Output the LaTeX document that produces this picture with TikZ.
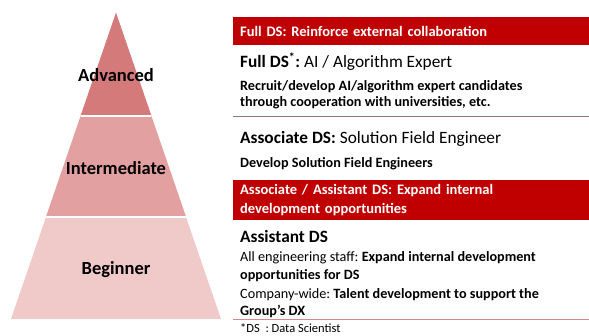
\documentclass[tikz,border=0pt]{standalone}
\usepackage{fontspec}
\setmainfont{Carlito}
\usepackage{xcolor}
\usetikzlibrary{positioning,calc}
\frenchspacing
\definecolor{pyrtop}{RGB}{213,122,122}
\definecolor{pyrmid}{RGB}{226,160,161}
\definecolor{pyrbot}{RGB}{240,201,201}
\definecolor{barred}{RGB}{192,0,0}
\definecolor{rulegray}{RGB}{150,118,118}
\definecolor{rulepink}{RGB}{212,138,138}
\tikzset{
  lvlnode/.style={font=\fontsize{18.5}{20}\selectfont\bfseries, inner sep=0pt},
  headbar/.style={fill=barred, text=white, anchor=north west, align=left, text width=342pt, inner xsep=7pt, inner ysep=0pt, font=\fontsize{14.5}{19}\selectfont\bfseries},
  txtnode/.style={anchor=base west, align=left, inner sep=0pt},
}

\begin{document}
\begin{tikzpicture}[
  x=1pt, y=-1pt,
  title/.style={txtnode, font=\fontsize{17.3}{21}\selectfont},
  body/.style={txtnode, font=\fontsize{14.2}{17}\selectfont},
]
  \useasboundingbox (0,0) rectangle (589,336);

  \coordinate (apex) at (116,13);
  \coordinate (bl) at (11,319);
  \coordinate (br) at (221,319);
  \begin{scope}
    \clip (apex) -- (bl) -- (br) -- cycle;
    \fill[pyrbot] (0,0) rectangle (240,336);
    \fill[pyrmid] (0,0) rectangle (240,217);
    \fill[pyrtop] (0,0) rectangle (240,116);
    \draw[white, line width=2pt] (0,116) -- (240,116) (0,217) -- (240,217);
  \end{scope}

  \node[lvlnode] (adv) at (116,75) {Advanced};
  \node[lvlnode] (inter) at (116,168) {Intermediate};
  \node[lvlnode] (beg) at (116,270) {Beginner};

  \node[headbar, minimum height=28pt] (bar1) at (233,17) {Full DS: Reinforce external collaboration};
  \node[title] (fullds) at (240,68) {\textbf{Full DS\textsuperscript{*}:} AI / Algorithm Expert};
  \node[body, font=\fontsize{14.2}{16}\selectfont\bfseries] (recruit) at (240,107) {Recruit/develop AI/algorithm expert candidates\\through cooperation with universities, etc.};
  \draw[rulegray, line width=1pt] (233,117) -- (589,117);

  \node[title] (assoc) at (240,144) {\textbf{Associate DS:} Solution Field Engineer};
  \node[body, font=\fontsize{14.2}{16}\selectfont\bfseries] (sfe) at (240,168) {Develop Solution Field Engineers};

  \node[headbar, minimum height=40pt] (bar2) at (233,180) {Associate / Assistant DS: Expand internal\\development opportunities};
  \node[title, font=\fontsize{17.3}{21}\selectfont\bfseries] (asst) at (240,243) {Assistant DS};
  \node[body, font=\fontsize{14.2}{18}\selectfont] (alleng) at (240,280) {All engineering staff: \textbf{Expand internal development}\\\textbf{opportunities for DS}};
  \node[body, font=\fontsize{14.2}{17}\selectfont] (company) at (240,316) {Company-wide: \textbf{Talent development to support the}\\\textbf{Group’s DX}};
  \draw[rulepink, line width=1pt] (233,320) -- (589,320);

  \node[body, font=\fontsize{12.5}{14}\selectfont] (note) at (240,333) {*DS~~: Data Scientist};
\end{tikzpicture}
\end{document}
